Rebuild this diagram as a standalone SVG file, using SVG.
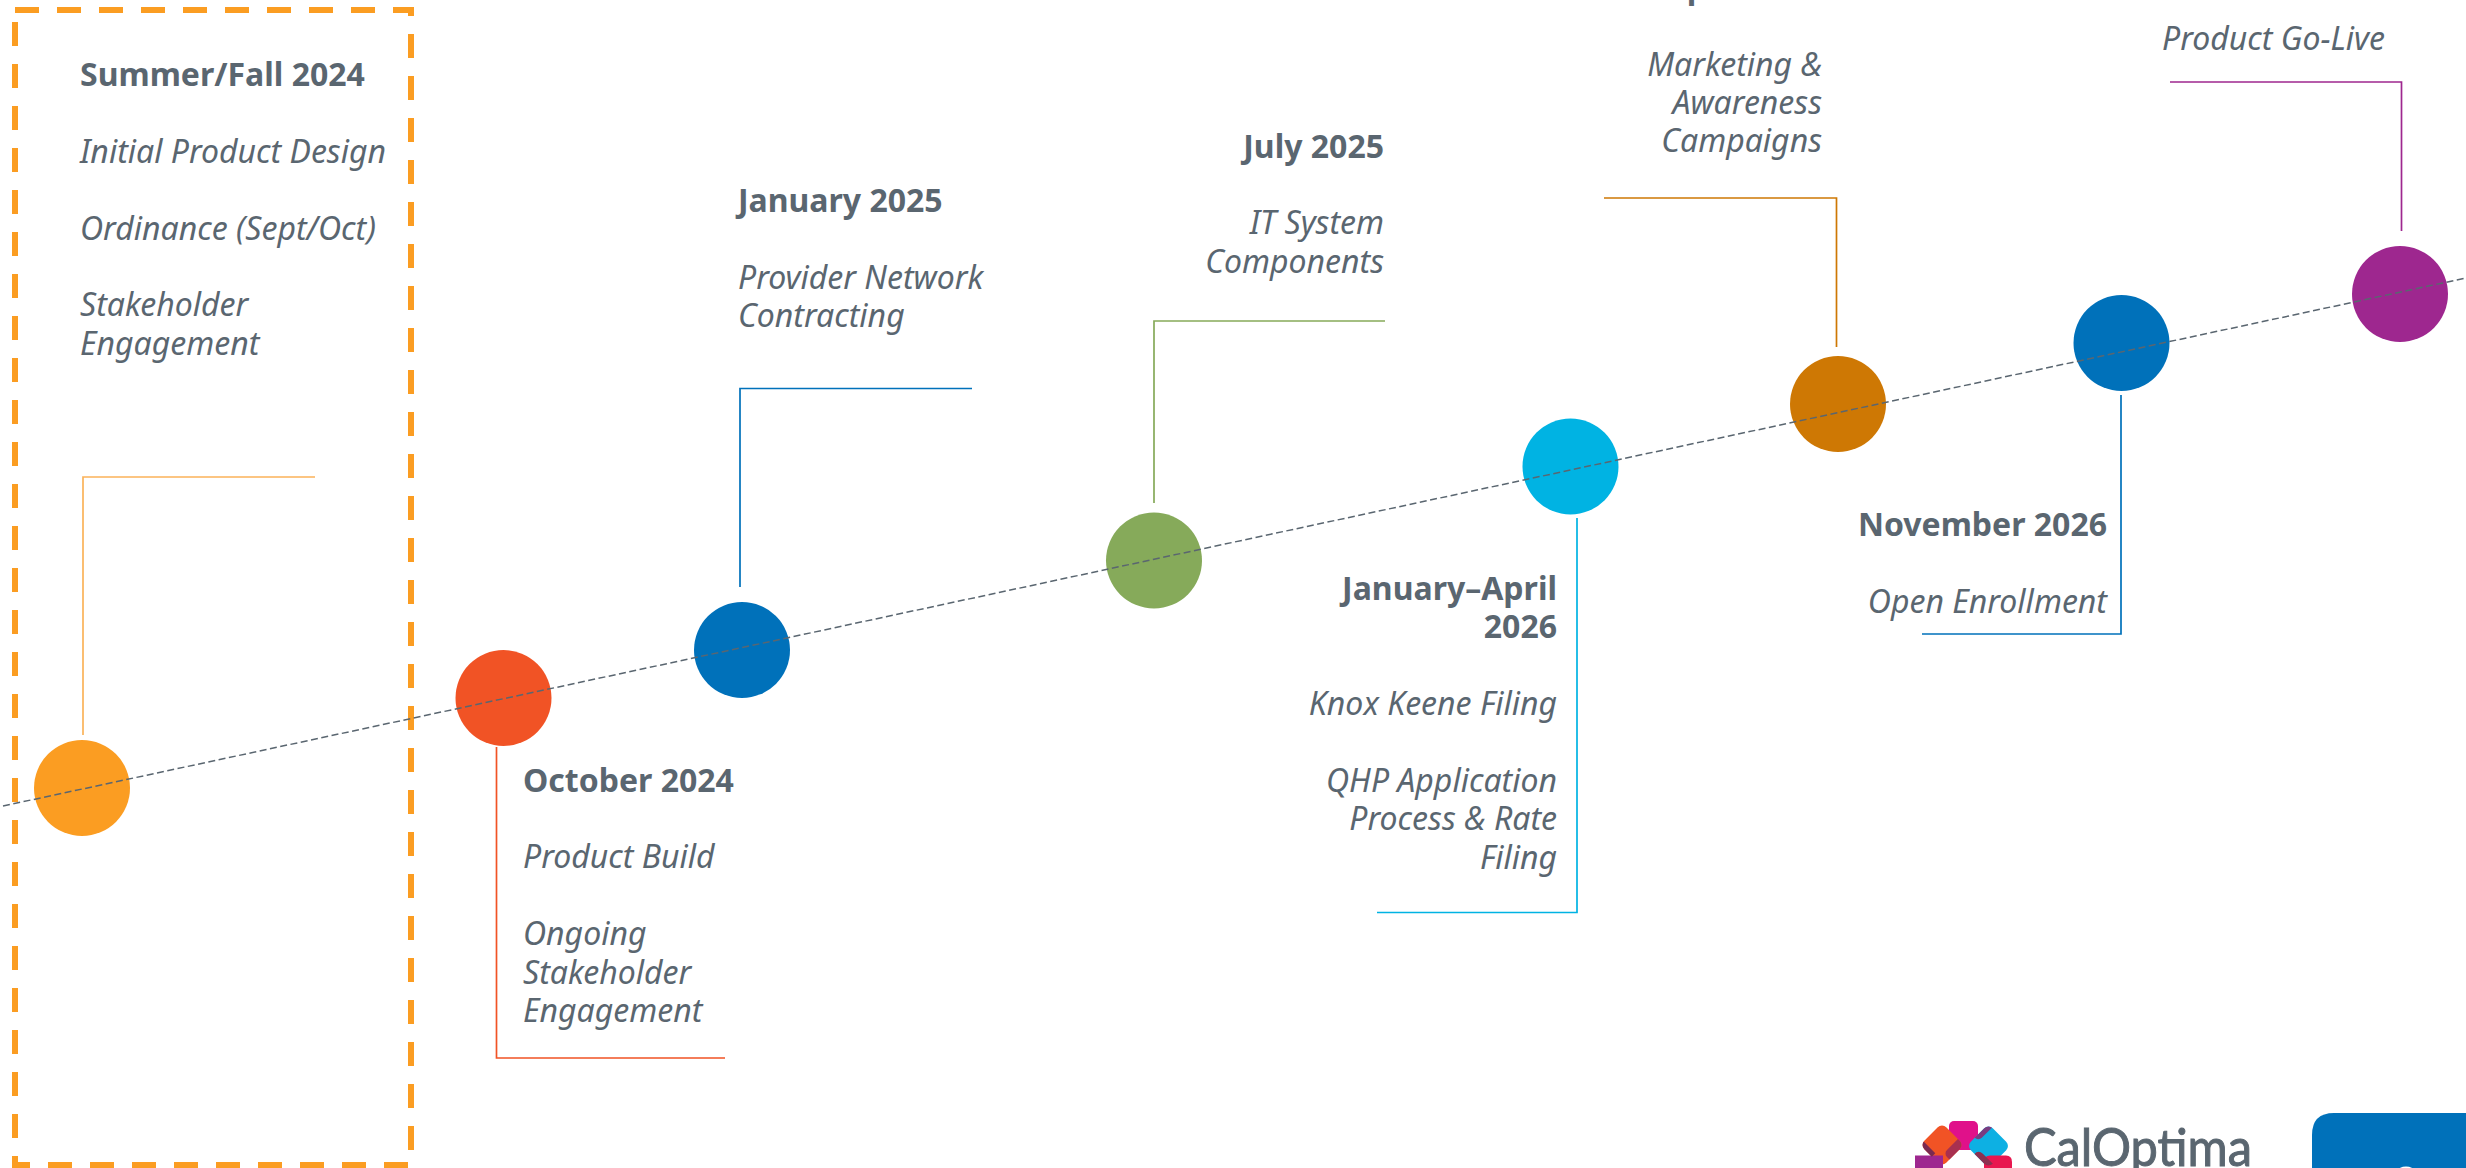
<svg xmlns="http://www.w3.org/2000/svg" width="2466" height="1168" viewBox="0 0 2466 1168">
<style>
text{font-family:"Noto Sans","Open Sans",sans-serif;font-size:32px;fill:#5A6670}
.h{font-weight:700}
.i{font-style:italic}
.e{text-anchor:end}
.c{fill:none;stroke-width:1.700}
</style>
<defs>
<clipPath id="clip-pink"><rect x="1949" y="1121" width="29" height="29" rx="5"/></clipPath>
<clipPath id="clip-purple"><rect x="1915" y="1155.500" width="28" height="13"/></clipPath>
<clipPath id="clip-red"><path d="M1984 1168V1162Q1984 1155.500 1990 1155.500H2006Q2012 1155.500 2012 1162V1168Z"/></clipPath>
</defs>
<rect width="2466" height="1168" fill="#fff"/>
<path id="phase-box" d="M15 10H411V1165H15Z" fill="none" stroke="#FB9D22" stroke-width="6" stroke-dasharray="24 18"/>
<g id="connectors">
<path class="c" stroke="#FBB35A" d="M315 477H83V735"/>
<path class="c" stroke="#F15325" d="M496.500 747V1058H725"/>
<path class="c" stroke="#0071BA" d="M972 388.500H740V587"/>
<path class="c" stroke="#86AA5A" d="M1385 321H1154V503"/>
<path class="c" stroke="#00B3E3" d="M1577 518V912.500H1377"/>
<path class="c" stroke="#CE7804" d="M1604 198H1836.500V347"/>
<path class="c" stroke="#0071BA" d="M2121 395V634H1922"/>
<path class="c" stroke="#9E278F" d="M2170 82H2401.500V231"/>
</g>
<g id="n1"><circle cx="82" cy="788" r="48" fill="#FB9D22"/>
<text class="h" x="80" y="86">Summer/Fall 2024</text>
<text class="i" x="80" y="163">Initial Product Design</text>
<text class="i" x="80" y="240">Ordinance (Sept/Oct)</text>
<text class="i" x="80" y="316">Stakeholder</text>
<text class="i" x="80" y="355">Engagement</text></g>
<g id="n2"><circle cx="503.500" cy="698" r="48" fill="#F15325"/>
<text class="h" x="523" y="792">October 2024</text>
<text class="i" x="523" y="868">Product Build</text>
<text class="i" x="523" y="945">Ongoing</text>
<text class="i" x="523" y="984">Stakeholder</text>
<text class="i" x="523" y="1022">Engagement</text></g>
<g id="n3"><circle cx="742" cy="650" r="48" fill="#0071BA"/>
<text class="h" x="738" y="212">January 2025</text>
<text class="i" x="738" y="289">Provider Network</text>
<text class="i" x="738" y="327">Contracting</text></g>
<g id="n4"><circle cx="1154" cy="560.500" r="48" fill="#86AA5A"/>
<text class="h e" x="1384" y="158">July 2025</text>
<text class="i e" x="1384" y="234">IT System</text>
<text class="i e" x="1384" y="273">Components</text></g>
<g id="n5"><circle cx="1570.500" cy="466.500" r="48" fill="#00B3E3"/>
<text class="h e" x="1557" y="600">January–April</text>
<text class="h e" x="1557" y="638">2026</text>
<text class="i e" x="1557" y="715">Knox Keene Filing</text>
<text class="i e" x="1557" y="792">QHP Application</text>
<text class="i e" x="1557" y="830">Process &amp; Rate</text>
<text class="i e" x="1557" y="869">Filing</text></g>
<g id="n6"><circle cx="1838" cy="404" r="48" fill="#CE7804"/>
<text class="h e" x="1822" y="-2">April 2026</text>
<text class="i e" x="1822" y="76">Marketing &amp;</text>
<text class="i e" x="1822" y="114">Awareness</text>
<text class="i e" x="1822" y="152">Campaigns</text></g>
<g id="n7"><circle cx="2121.500" cy="343" r="48" fill="#0071BA"/>
<text class="h e" x="2107" y="536">November 2026</text>
<text class="i e" x="2107" y="613">Open Enrollment</text></g>
<g id="n8"><circle cx="2400" cy="294" r="48" fill="#9E278F"/>
<text class="i e" x="2385" y="50">Product Go-Live</text></g>
<path id="axis" d="M3 806L2466 278" fill="none" stroke="#5A6670" stroke-width="1.500" stroke-dasharray="7 3.500"/>
<g id="logo">
<rect x="1949" y="1121" width="29" height="29" rx="5" fill="#E0118A"/>
<rect x="1926.500" y="1129.500" width="31" height="31" rx="6" transform="rotate(45 1942 1145)" fill="#F15325"/>
<rect x="1973" y="1130.500" width="31" height="31" rx="6" transform="rotate(45 1988.500 1146)" fill="#0DB0E3"/>
<rect x="1915" y="1155.500" width="28" height="13" fill="#9E278F"/>
<path d="M1984 1168V1162Q1984 1155.500 1990 1155.500H2006Q2012 1155.500 2012 1162V1168Z" fill="#E8174F"/>
<rect x="1926.500" y="1129.500" width="31" height="31" rx="6" transform="rotate(45 1942 1145)" fill="#A83050" clip-path="url(#clip-pink)"/>
<rect x="1973" y="1130.500" width="31" height="31" rx="6" transform="rotate(45 1988.500 1146)" fill="#7A3C80" clip-path="url(#clip-pink)"/>
<rect x="1926.500" y="1129.500" width="31" height="31" rx="6" transform="rotate(45 1942 1145)" fill="#7A2A50" clip-path="url(#clip-purple)"/>
<rect x="1973" y="1130.500" width="31" height="31" rx="6" transform="rotate(45 1988.500 1146)" fill="#8C3050" clip-path="url(#clip-red)"/>
<text x="2024" y="1166" textLength="228" lengthAdjust="spacingAndGlyphs" style="font-family:Lato,sans-serif;font-size:53px;fill:#5A6670;stroke:#5A6670;stroke-width:1">CalOptima</text>
</g>
<g id="page-tab">
<path d="M2466 1113H2334Q2312 1113 2312 1135V1168H2466Z" fill="#0071BA"/>
<ellipse cx="2406" cy="1171" rx="8" ry="4.500" fill="#fff"/>
</g>
</svg>
